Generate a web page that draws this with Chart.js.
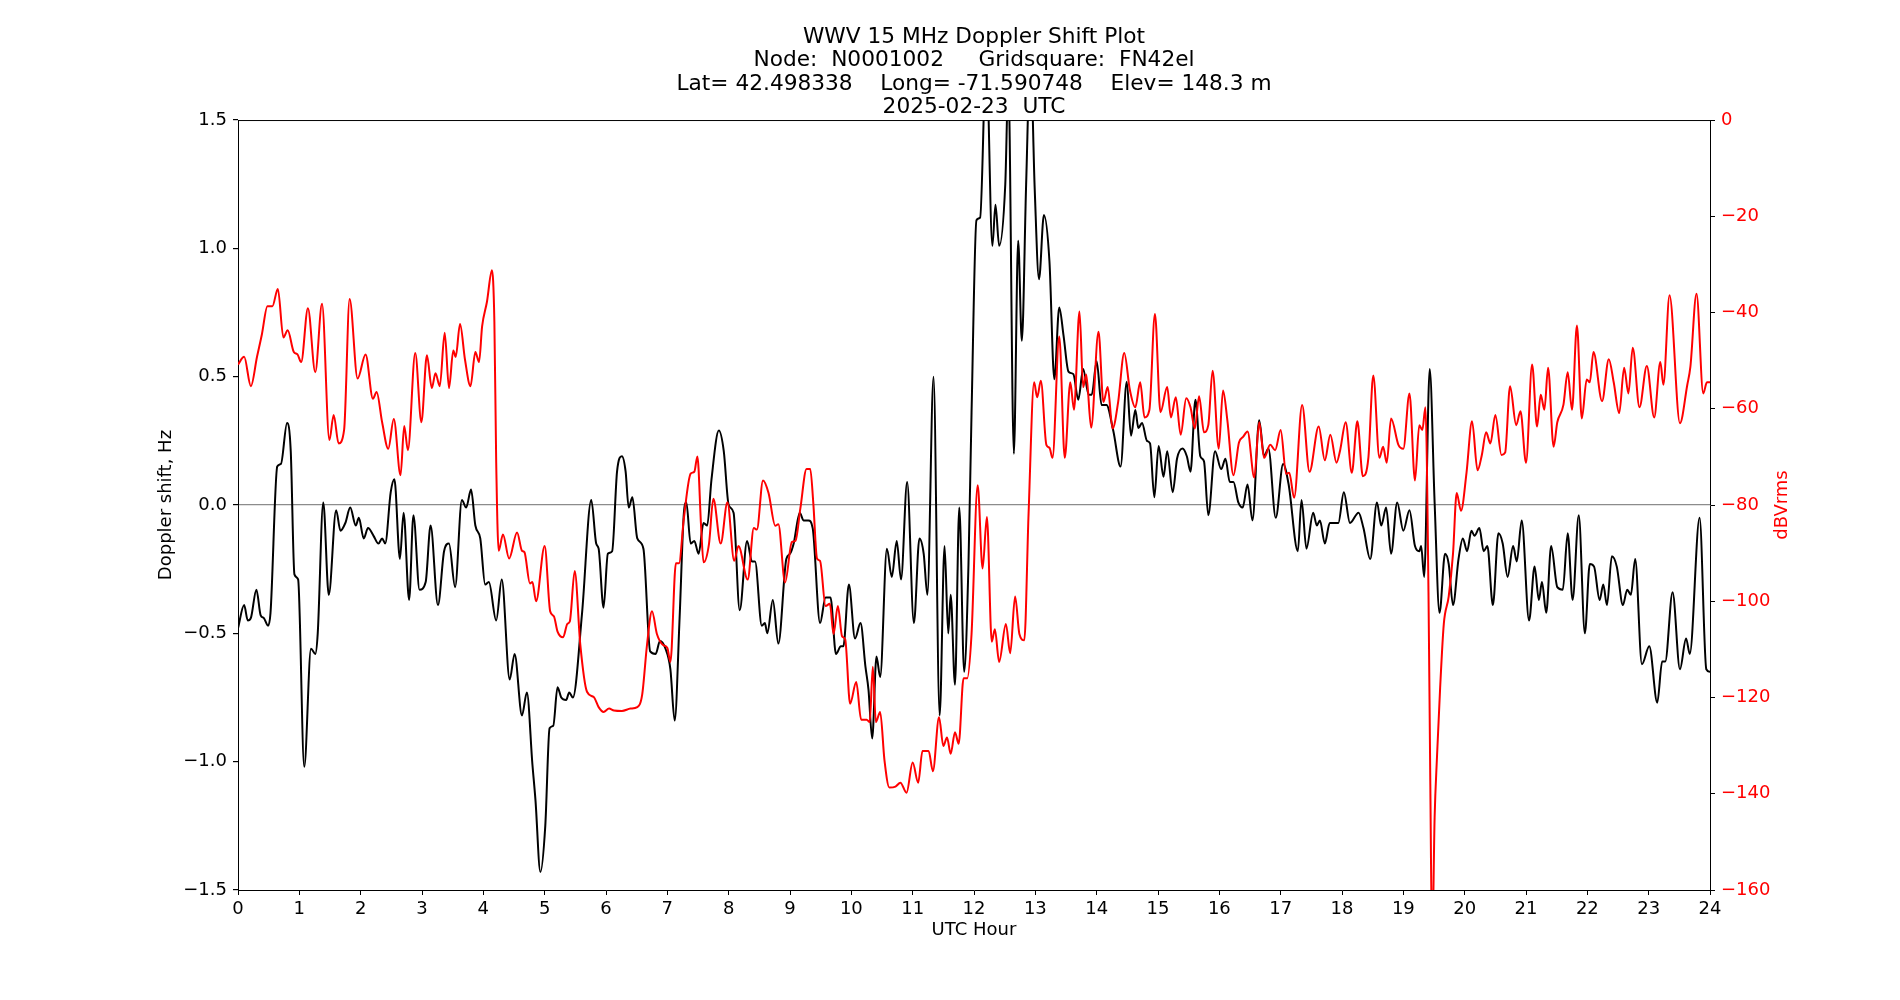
<!DOCTYPE html>
<html>
<head>
<meta charset="utf-8">
<title>WWV 15 MHz Doppler Shift Plot</title>
<script src="https://cdn.jsdelivr.net/npm/chart.js@4.4.1/dist/chart.umd.min.js"></script>
<style>
  html, body { margin: 0; padding: 0; background: #fff; }
  #wrap { width: 1900px; height: 1000px; }
</style>
</head>
<body>
<div id="wrap"><canvas id="dopplerChart" width="1900" height="1000"></canvas></div>
<script>
// Doppler shift (black, left axis) and received level (red, right axis)

const TITLE_LINES = [
  'WWV 15 MHz Doppler Shift Plot',
  'Node:  N0001002     Gridsquare:  FN42el',
  'Lat= 42.498338    Long= -71.590748    Elev= 148.3 m',
  '2025-02-23  UTC',
];

const X_TICKS = [0, 24, 1];          // min, max, step (UTC hour)
const DOPPLER_TICKS = [-1.5, 1.5, 0.5];
const POWER_TICKS = [-160, 0, 20];

const dopplerHours = [
  0.00, 0.10, 0.16, 0.21, 0.30, 0.37, 0.42, 0.49, 0.53, 0.64, 0.70, 0.80, 0.86, 0.92, 0.98,
  1.08, 1.19, 1.26, 1.30, 1.39, 1.48, 1.60, 1.67, 1.75, 1.83, 1.92, 1.97,
  2.05, 2.12, 2.21, 2.29, 2.35, 2.40, 2.49, 2.55, 2.64, 2.70, 2.79, 2.86, 2.96,
  3.06, 3.14, 3.26, 3.36, 3.44, 3.54, 3.65, 3.72, 3.80, 3.87, 3.95,
  4.03, 4.09, 4.21, 4.30, 4.43, 4.51, 4.63, 4.71, 4.80, 4.85, 4.93,
  5.01, 5.08, 5.14, 5.21, 5.27, 5.35, 5.40, 5.46, 5.61, 5.76, 5.84, 5.88, 5.96,
  6.03, 6.10, 6.18, 6.26, 6.32, 6.37, 6.43, 6.51, 6.61, 6.72, 6.81, 6.88, 6.97,
  7.05, 7.12, 7.20, 7.27, 7.31, 7.38, 7.44, 7.51, 7.59, 7.65, 7.72, 7.84, 7.92,
  8.00, 8.08, 8.18, 8.30, 8.38, 8.43, 8.54, 8.59, 8.63, 8.72, 8.81, 8.94,
  9.00, 9.06, 9.16, 9.22, 9.30, 9.37, 9.49, 9.58, 9.66, 9.75, 9.83, 9.87, 9.96,
  10.06, 10.15, 10.23, 10.28, 10.34, 10.41, 10.47, 10.58, 10.66, 10.74, 10.81, 10.91,
  11.02, 11.11, 11.18, 11.24, 11.34, 11.44, 11.52, 11.58, 11.62, 11.69, 11.76, 11.84, 11.91, 11.96,
  12.04, 12.10, 12.20, 12.30, 12.35, 12.41, 12.51, 12.56, 12.65, 12.72, 12.78, 12.85, 12.92, 12.99,
  13.06, 13.14, 13.23, 13.31, 13.39, 13.46, 13.54, 13.62, 13.70, 13.78, 13.87, 13.92,
  14.00, 14.08, 14.16, 14.27, 14.39, 14.49, 14.56, 14.63, 14.68, 14.74, 14.82, 14.87, 14.94,
  15.01, 15.09, 15.15, 15.24, 15.31, 15.40, 15.47, 15.53, 15.61, 15.69, 15.75, 15.82, 15.93,
  16.03, 16.10, 16.17, 16.23, 16.31, 16.38, 16.46, 16.54, 16.65, 16.73, 16.80, 16.92,
  17.04, 17.13, 17.28, 17.34, 17.42, 17.53, 17.59, 17.64, 17.72, 17.80, 17.87, 17.94,
  18.03, 18.13, 18.27, 18.35, 18.46, 18.57, 18.64, 18.72, 18.80, 18.90,
  19.00, 19.10, 19.19, 19.26, 19.29, 19.34, 19.43, 19.51, 19.59, 19.68, 19.74, 19.81, 19.90, 19.97,
  20.04, 20.11, 20.16, 20.24, 20.31, 20.37, 20.46, 20.55, 20.62, 20.70, 20.79, 20.85, 20.93,
  21.05, 21.14, 21.21, 21.26, 21.33, 21.41, 21.51, 21.60, 21.68, 21.76, 21.86, 21.96,
  22.04, 22.11, 22.20, 22.26, 22.32, 22.40, 22.48, 22.58, 22.65, 22.71, 22.78, 22.89,
  23.01, 23.14, 23.22, 23.27, 23.39, 23.51, 23.61, 23.67, 23.83, 23.94, 24.00,
];

const dopplerHz = [
  -0.48, -0.39, -0.45, -0.44, -0.33, -0.43, -0.44, -0.47, -0.42, 0.15, 0.16, 0.32, 0.21, -0.27, -0.29,
  -1.02, -0.56, -0.58, -0.50, 0.01, -0.35, -0.02, -0.10, -0.07, -0.01, -0.08, -0.05,
  -0.13, -0.09, -0.12, -0.15, -0.13, -0.15, 0.05, 0.10, -0.21, -0.03, -0.37, -0.04, -0.33,
  -0.30, -0.08, -0.39, -0.18, -0.15, -0.32, 0.02, -0.01, 0.06, -0.08, -0.13,
  -0.31, -0.30, -0.45, -0.29, -0.68, -0.58, -0.82, -0.73, -1.01, -1.15, -1.43,
  -1.25, -0.87, -0.86, -0.71, -0.75, -0.76, -0.73, -0.75, -0.42, 0.02, -0.15, -0.17, -0.40,
  -0.19, -0.18, 0.13, 0.19, 0.13, -0.01, 0.03, -0.13, -0.17, -0.57, -0.58, -0.53, -0.56,
  -0.64, -0.84, -0.44, -0.03, 0.01, -0.15, -0.14, -0.19, -0.07, -0.08, 0.10, 0.29, 0.21,
  0.00, -0.03, -0.41, -0.14, -0.22, -0.22, -0.47, -0.46, -0.50, -0.37, -0.54, -0.21,
  -0.19, -0.15, -0.03, -0.06, -0.06, -0.09, -0.46, -0.36, -0.36, -0.58, -0.55, -0.55, -0.31,
  -0.52, -0.46, -0.63, -0.72, -0.91, -0.59, -0.67, -0.17, -0.28, -0.14, -0.29, 0.09,
  -0.46, -0.13, -0.19, -0.35, 0.50, -0.82, -0.16, -0.50, -0.35, -0.70, -0.01, -0.65, -0.23, 0.36,
  1.11, 1.12, 1.75, 1.01, 1.17, 1.01, 1.25, 1.65, 0.20, 1.03, 0.64, 1.25, 1.75, 1.23,
  0.88, 1.13, 0.95, 0.49, 0.77, 0.66, 0.52, 0.51, 0.41, 0.53, 0.43, 0.43,
  0.56, 0.39, 0.39, 0.29, 0.15, 0.48, 0.27, 0.37, 0.30, 0.32, 0.25, 0.24, 0.03,
  0.23, 0.11, 0.21, 0.05, 0.18, 0.22, 0.19, 0.13, 0.41, 0.19, 0.17, -0.04, 0.21,
  0.14, 0.18, 0.09, 0.09, 0.01, -0.01, 0.08, -0.06, 0.33, 0.19, 0.22, -0.05,
  0.16, 0.08, -0.18, 0.02, -0.17, -0.03, -0.08, -0.06, -0.15, -0.07, -0.07, -0.07,
  0.05, -0.07, -0.03, -0.09, -0.21, 0.01, -0.08, -0.01, -0.19, 0.01,
  -0.10, -0.02, -0.16, -0.18, -0.16, -0.28, 0.53, 0.01, -0.42, -0.19, -0.23, -0.39, -0.21, -0.13,
  -0.18, -0.10, -0.12, -0.09, -0.18, -0.16, -0.39, -0.11, -0.15, -0.28, -0.16, -0.22, -0.06,
  -0.45, -0.24, -0.37, -0.30, -0.42, -0.16, -0.32, -0.33, -0.11, -0.37, -0.04, -0.50,
  -0.23, -0.24, -0.37, -0.31, -0.39, -0.20, -0.24, -0.39, -0.33, -0.35, -0.21, -0.62,
  -0.55, -0.77, -0.61, -0.61, -0.34, -0.64, -0.52, -0.58, -0.05, -0.64, -0.65,
];

const powerHours = [
  0.00, 0.10, 0.21, 0.31, 0.39, 0.48, 0.56, 0.65, 0.74, 0.81, 0.91, 0.97,
  1.03, 1.14, 1.26, 1.37, 1.49, 1.56, 1.64, 1.73, 1.82, 1.95,
  2.08, 2.20, 2.26, 2.35, 2.45, 2.54, 2.65, 2.71, 2.77, 2.89, 2.99,
  3.08, 3.16, 3.22, 3.29, 3.37, 3.44, 3.51, 3.55, 3.62, 3.70, 3.79, 3.87, 3.93, 3.98,
  4.06, 4.14, 4.18, 4.21, 4.25, 4.32, 4.42, 4.55, 4.63, 4.67, 4.76, 4.80, 4.86,
  5.00, 5.09, 5.15, 5.21, 5.30, 5.37, 5.41, 5.49, 5.58, 5.69, 5.80, 5.88, 5.96,
  6.05, 6.13, 6.26, 6.40, 6.51, 6.59, 6.67, 6.75, 6.83, 6.93,
  7.00, 7.05, 7.14, 7.19, 7.27, 7.38, 7.44, 7.49, 7.55, 7.59, 7.68, 7.75, 7.87, 7.98,
  8.09, 8.16, 8.31, 8.41, 8.46, 8.56, 8.65, 8.76, 8.81, 8.92,
  9.03, 9.09, 9.17, 9.27, 9.33, 9.38, 9.44, 9.49, 9.58, 9.65, 9.71, 9.78, 9.85, 9.90, 9.98,
  10.08, 10.16, 10.25, 10.30, 10.35, 10.40, 10.47, 10.54, 10.62, 10.72, 10.80, 10.90,
  11.00, 11.09, 11.16, 11.26, 11.33, 11.43, 11.50, 11.56, 11.62, 11.69, 11.75, 11.83, 11.89, 11.96,
  12.06, 12.14, 12.21, 12.29, 12.34, 12.41, 12.52, 12.59, 12.67, 12.74, 12.82, 12.89, 12.98,
  13.03, 13.09, 13.18, 13.23, 13.28, 13.39, 13.48, 13.57, 13.63, 13.72, 13.78, 13.83, 13.91,
  14.03, 14.11, 14.18, 14.26, 14.35, 14.45, 14.54, 14.63, 14.71, 14.78, 14.86, 14.95,
  15.04, 15.15, 15.21, 15.29, 15.37, 15.46, 15.53, 15.60, 15.67, 15.75, 15.82, 15.89, 15.99,
  16.06, 16.13, 16.23, 16.32, 16.39, 16.46, 16.57, 16.65, 16.73, 16.83, 16.91,
  17.00, 17.09, 17.14, 17.22, 17.35, 17.47, 17.62, 17.72, 17.81, 17.91, 17.97,
  18.06, 18.16, 18.25, 18.34, 18.43, 18.51, 18.61, 18.67, 18.73, 18.80, 18.92,
  19.00, 19.10, 19.19, 19.26, 19.31, 19.36, 19.41, 19.44, 19.47, 19.51, 19.55, 19.60, 19.66, 19.74, 19.81, 19.87, 19.94,
  20.03, 20.12, 20.21, 20.28, 20.35, 20.42, 20.50, 20.60, 20.66, 20.74, 20.84, 20.91,
  21.00, 21.10, 21.18, 21.24, 21.30, 21.36, 21.45, 21.51, 21.61, 21.68, 21.75, 21.83, 21.91, 21.99,
  22.04, 22.10, 22.24, 22.35, 22.43, 22.52, 22.60, 22.67, 22.74, 22.85, 22.97,
  23.09, 23.19, 23.24, 23.34, 23.51, 23.63, 23.68, 23.78, 23.89, 23.95, 24.00,
];

const powerDb = [
  -50.8, -49.2, -55.3, -49.2, -44.5, -38.7, -38.7, -35.1, -45.2, -43.7, -48.2, -48.7,
  -50.3, -39.1, -52.4, -38.2, -66.5, -61.3, -67.2, -64.4, -37.2, -53.7,
  -48.7, -57.9, -56.5, -62.8, -68.3, -62.1, -73.8, -63.6, -68.6, -48.4, -62.8,
  -48.9, -55.7, -52.6, -55.3, -44.2, -55.7, -47.9, -49.2, -42.4, -49.7, -55.3, -48.2, -50.3, -42.9,
  -37.7, -31.2, -41.9, -71.2, -89.5, -86.1, -91.1, -85.7, -89.5, -89.8, -96.3, -96.0, -100.0,
  -88.5, -102.1, -103.1, -106.3, -107.5, -104.7, -104.2, -93.7, -108.9, -118.8, -119.9, -122.0, -123.0,
  -122.3, -122.7, -122.8, -122.3, -122.0, -119.4, -108.9, -102.1, -106.8, -109.1,
  -109.7, -112.6, -92.1, -92.1, -82.7, -73.5, -73.1, -69.9, -84.3, -91.9, -88.0, -78.7, -88.0, -79.4,
  -91.6, -88.5, -95.5, -84.8, -85.1, -74.9, -77.5, -84.3, -84.0, -96.1,
  -87.7, -87.4, -80.6, -72.5, -72.5, -79.6, -91.1, -91.6, -101.0, -100.5, -106.8, -101.0, -107.3, -107.9, -121.3,
  -116.8, -124.6, -124.6, -125.1, -113.6, -125.1, -123.0, -133.0, -138.7, -138.5, -137.7, -139.8,
  -133.5, -137.7, -131.1, -131.1, -135.3, -124.1, -130.1, -128.3, -131.7, -127.2, -129.6, -116.0, -116.0, -106.8,
  -75.9, -93.2, -82.5, -108.4, -105.8, -112.6, -104.7, -110.8, -99.0, -106.8, -108.1, -81.7, -54.5,
  -57.6, -54.2, -67.5, -68.1, -70.2, -45.0, -70.2, -54.5, -60.2, -39.8, -55.5, -52.9, -63.9,
  -44.0, -58.6, -55.5, -64.1, -58.6, -48.4, -56.0, -59.7, -54.5, -61.8, -60.2, -40.3,
  -60.7, -55.5, -61.8, -57.6, -65.4, -57.8, -59.7, -64.1, -57.4, -64.9, -63.4, -52.1, -68.3,
  -56.2, -62.3, -73.8, -67.0, -65.8, -64.7, -74.3, -62.8, -70.2, -67.5, -68.6,
  -64.4, -73.5, -73.3, -78.5, -59.2, -73.1, -63.7, -70.7, -65.4, -71.2, -68.6,
  -62.8, -73.3, -62.6, -74.0, -70.2, -53.1, -70.2, -67.9, -71.2, -62.0, -67.5,
  -68.3, -56.8, -74.9, -63.4, -64.4, -59.7, -98.0, -138.0, -172.0, -145.0, -132.0, -118.0, -104.7, -99.0, -90.1, -77.5, -81.2,
  -73.3, -62.6, -72.8, -69.6, -64.9, -67.2, -61.3, -69.6, -69.1, -55.3, -63.4, -60.5,
  -71.2, -50.8, -63.7, -57.1, -60.2, -51.5, -67.9, -62.8, -59.2, -52.4, -60.2, -42.7, -62.0, -53.9,
  -54.5, -48.2, -58.4, -49.7, -54.5, -60.9, -51.5, -56.8, -47.3, -59.7, -51.1,
  -61.8, -50.3, -55.0, -36.4, -63.0, -55.0, -51.3, -36.1, -56.8, -54.5, -54.5,
];

const FONT = 'DejaVu Sans';
const COLOR_BLACK = '#000000';
const COLOR_RED = '#FF0000';
const COLOR_ZERO = '#8C8C8C';
const MINUS = '\u2212';

function toPoints(xs, ys) {
  return xs.map((x, i) => ({ x, y: ys[i] }));
}

function fmtTick(v, digits) {
  const s = digits ? v.toFixed(digits) : String(Math.round(v));
  return s.replace('-', MINUS);
}

// top spine + right-hand axis label (matplotlib reads it bottom-to-top)
const framePlugin = {
  id: 'frame',
  afterDatasetsDraw(chart) {
    const { ctx, chartArea: a } = chart;
    ctx.save();
    ctx.strokeStyle = COLOR_BLACK;
    ctx.lineWidth = 1;
    ctx.beginPath();
    ctx.moveTo(a.left, a.top + 0.5);
    ctx.lineTo(a.right, a.top + 0.5);
    ctx.stroke();
    ctx.restore();
  },
  afterDraw(chart) {
    const { ctx, chartArea: a } = chart;
    ctx.save();
    ctx.translate(1782, (a.top + a.bottom) / 2);
    ctx.rotate(-Math.PI / 2);
    ctx.fillStyle = COLOR_RED;
    ctx.font = `18px "${FONT}"`;
    ctx.textAlign = 'center';
    ctx.textBaseline = 'middle';
    ctx.fillText('dBVrms', 0, 0);
    ctx.restore();
  },
};

function initChart() {
  const ctx = document.getElementById('dopplerChart');
  const tickFont = { family: FONT, size: 18 };

  new Chart(ctx, {
    type: 'line',
    data: {
      datasets: [
        {
          label: 'dBVrms',
          data: toPoints(powerHours, powerDb),
          yAxisID: 'y2',
          borderColor: COLOR_RED,
          borderWidth: 2,
          pointRadius: 0,
          cubicInterpolationMode: 'monotone',
          fill: false,
        },
        {
          label: 'Doppler shift, Hz',
          data: toPoints(dopplerHours, dopplerHz),
          yAxisID: 'y',
          borderColor: COLOR_BLACK,
          borderWidth: 2,
          pointRadius: 0,
          cubicInterpolationMode: 'monotone',
          fill: false,
        },
      ],
    },
    options: {
      responsive: false,
      animation: false,
      events: [],
      layout: { padding: 0 },
      plugins: {
        legend: { display: false },
        tooltip: { enabled: false },
        title: {
          display: true,
          text: TITLE_LINES,
          fullSize: false,
          color: COLOR_BLACK,
          font: { family: FONT, size: 21.7, weight: 'normal', lineHeight: 1.08 },
          padding: { top: 25.3, bottom: 1 },
        },
      },
      scales: {
        x: {
          type: 'linear',
          position: 'bottom',
          min: X_TICKS[0],
          max: X_TICKS[1],
          ticks: {
            stepSize: X_TICKS[2],
            autoSkip: false,
            maxRotation: 0,
            color: COLOR_BLACK,
            font: tickFont,
            padding: 4,
            callback: (v) => fmtTick(v, 0),
          },
          grid: { drawOnChartArea: false, tickLength: 5, tickColor: COLOR_BLACK },
          border: { color: COLOR_BLACK, width: 1 },
          title: {
            display: true,
            text: 'UTC Hour',
            color: COLOR_BLACK,
            font: tickFont,
            padding: { top: 0, bottom: 58.6 },
          },
          afterFit: (s) => { s.height = 110; },
        },
        y: {
          type: 'linear',
          position: 'left',
          min: DOPPLER_TICKS[0],
          max: DOPPLER_TICKS[1],
          ticks: {
            stepSize: DOPPLER_TICKS[2],
            color: COLOR_BLACK,
            font: tickFont,
            padding: 6,
            callback: (v) => fmtTick(v, 1),
          },
          grid: {
            color: (c) => (Math.abs(c.tick.value) < 1e-9 ? COLOR_ZERO : 'rgba(0,0,0,0)'),
            lineWidth: 1.2,
            tickLength: 5,
            tickColor: COLOR_BLACK,
          },
          border: { color: COLOR_BLACK, width: 1 },
          title: {
            display: true,
            text: 'Doppler shift, Hz',
            color: COLOR_BLACK,
            font: tickFont,
            padding: { top: 156, bottom: 0 },
          },
          afterFit: (s) => { s.width = 238; },
        },
        y2: {
          type: 'linear',
          position: 'right',
          min: POWER_TICKS[0],
          max: POWER_TICKS[1],
          ticks: {
            stepSize: POWER_TICKS[2],
            color: COLOR_RED,
            font: tickFont,
            padding: 6,
            callback: (v) => fmtTick(v, 0),
          },
          grid: { drawOnChartArea: false, tickLength: 5, tickColor: COLOR_BLACK },
          border: { color: COLOR_BLACK, width: 1 },
          afterFit: (s) => { s.width = 190; },
        },
      },
    },
    plugins: [framePlugin],
  });
}

document.addEventListener('DOMContentLoaded', initChart);
</script>
</body>
</html>
